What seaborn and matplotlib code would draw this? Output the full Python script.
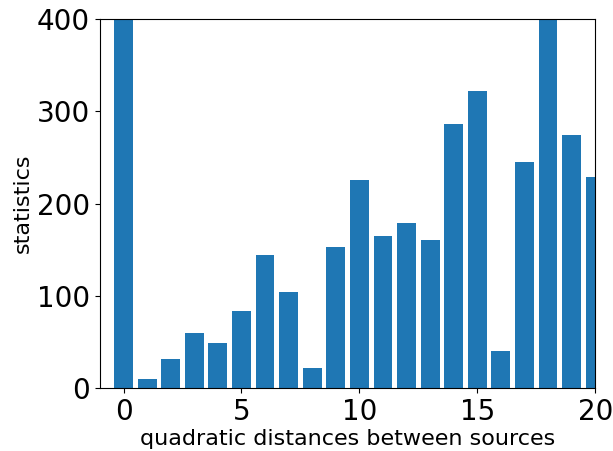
import matplotlib
matplotlib.use("Agg")
import matplotlib.pyplot as plt
import seaborn as sns
import pandas as pd

distances = list(range(21))
counts = [1000, 10, 32, 60, 49, 84, 144, 104, 22, 153, 226,
          165, 179, 161, 286, 322, 40, 245, 450, 274, 229]
xticks = [0, 5, 10, 15, 20]
yticks = [0, 100, 200, 300, 400]

df = pd.DataFrame({"distance": distances, "count": counts})

fig = plt.figure(figsize=(6.13, 4.51), dpi=100)
ax = fig.add_axes([0.163, 0.139, 0.808, 0.819])
sns.barplot(data=df, x="distance", y="count", native_scale=True,
            color="#1f77b4", saturation=1, width=0.8, linewidth=0, ax=ax)
ax.set_xlim(-1, 20)
ax.set_ylim(0, 400)
ax.set_xticks(xticks)
ax.set_xticklabels([str(t) for t in xticks])
ax.set_yticks(yticks)
ax.tick_params(labelsize=20)
ax.set_xlabel("quadratic distances between sources", fontsize=16, labelpad=2)
ax.set_ylabel("statistics", fontsize=16, labelpad=3)
fig.savefig("out.png", dpi=100)
